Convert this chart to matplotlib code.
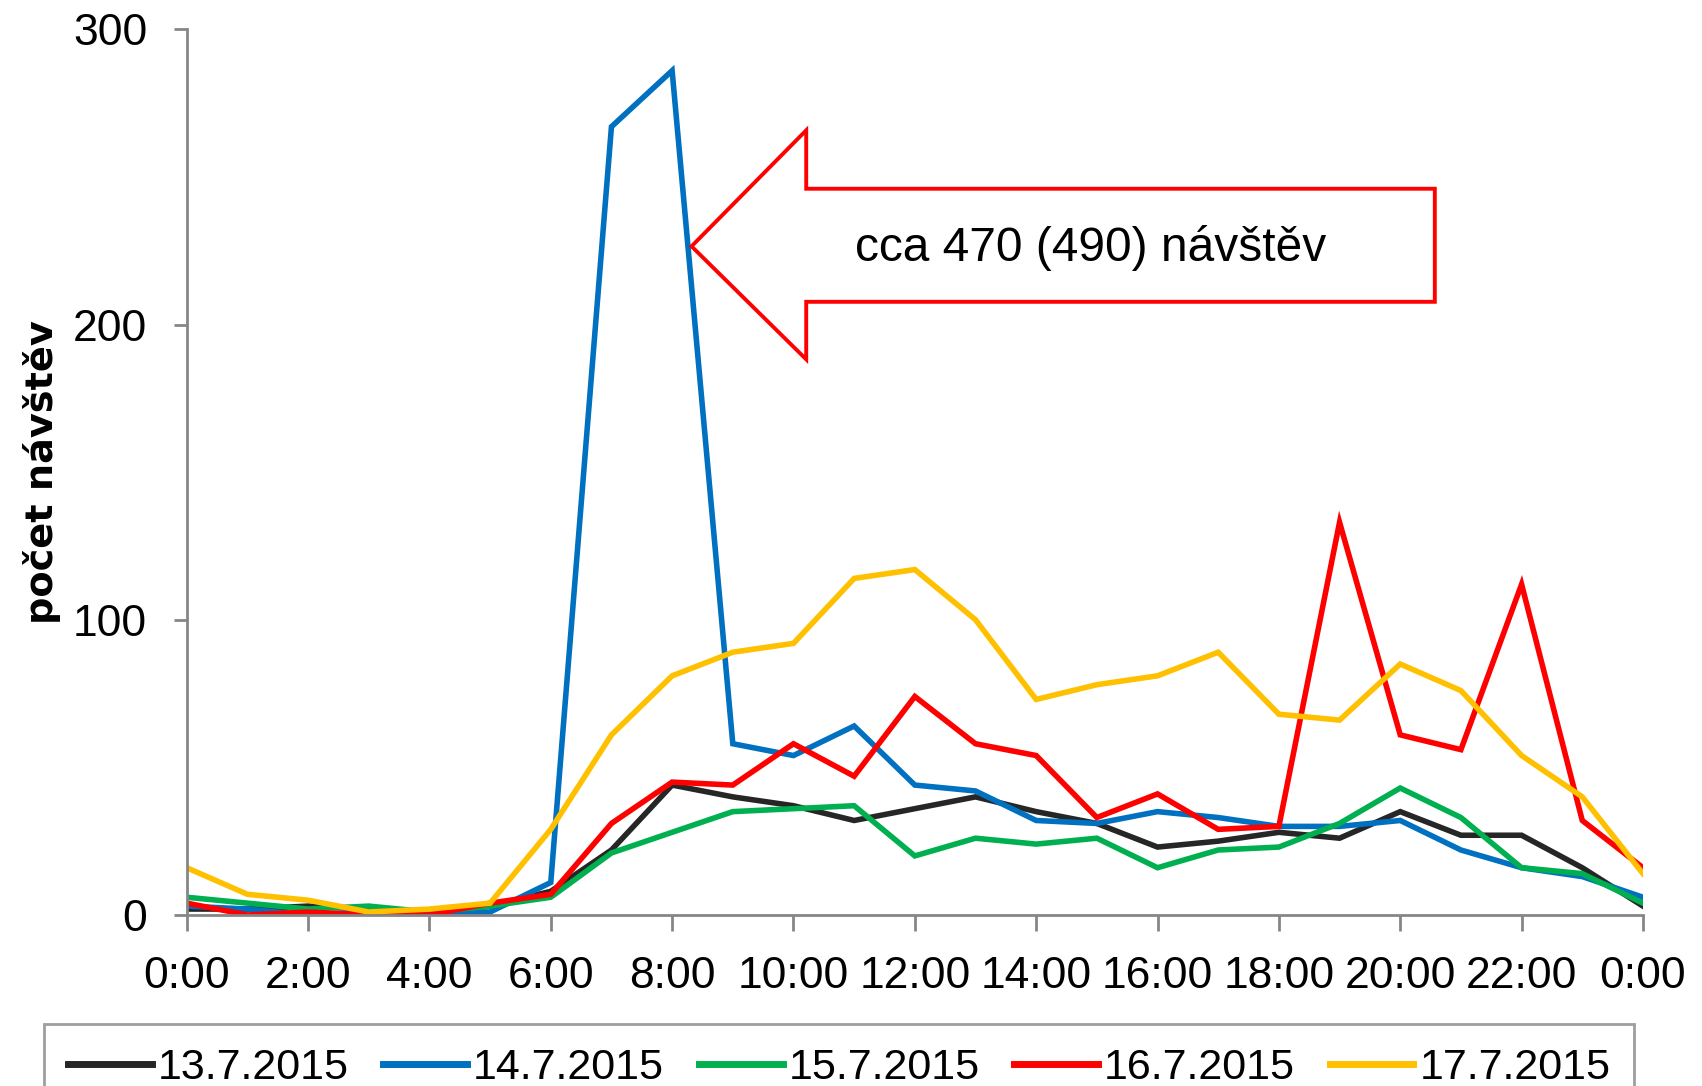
import matplotlib
matplotlib.use("Agg")
import matplotlib.pyplot as plt
from matplotlib.patches import Polygon

plt.rcParams["font.family"] = ["Liberation Sans", "DejaVu Sans"]

# hourly visit counts, 0:00 .. 24:00
hours = list(range(25))
tick_hours = list(range(0, 25, 2))
tick_labels = [f"{h % 24}:00" for h in tick_hours]

labels = ["13.7.2015", "14.7.2015", "15.7.2015", "16.7.2015", "17.7.2015"]
colors = ["#262626", "#0070C0", "#00B050", "#FF0000", "#FFC000"]

visits_13 = [2, 2, 3, 2, 1, 3, 8, 22, 44, 40, 37, 32, 36, 40, 35, 31, 23, 25, 28, 26, 35, 27, 27, 16, 3]
visits_14 = [3, 2, 0, 1, 1, 1, 11, 267, 286, 58, 54, 64, 44, 42, 32, 31, 35, 33, 30, 30, 32, 22, 16, 13, 6]
visits_15 = [6, 4, 2, 3, 1, 3, 6, 21, 28, 35, 36, 37, 20, 26, 24, 26, 16, 22, 23, 31, 43, 33, 16, 14, 4]
visits_16 = [4, 0, 1, 0, 0, 4, 7, 31, 45, 44, 58, 47, 74, 58, 54, 33, 41, 29, 30, 133, 61, 56, 112, 32, 16]
visits_17 = [16, 7, 5, 1, 2, 4, 29, 61, 81, 89, 92, 114, 117, 100, 73, 78, 81, 89, 68, 66, 85, 76, 54, 40, 14]
series = [visits_13, visits_14, visits_15, visits_16, visits_17]

# callout arrow outline (hours, visits)
arrow_x = [8.32, 10.21, 10.21, 20.57, 20.57, 10.21, 10.21]
arrow_y = [226.5, 265.8, 246.0, 246.0, 207.7, 207.7, 188.2]
note = "cca 470 (490) návštěv"

fig = plt.figure(figsize=(17.02, 10.86), dpi=100)
ax = fig.add_axes([0.1097, 0.1575, 0.8556, 0.8155])

for vals, lab, col in zip(series, labels, colors):
    ax.plot(hours, vals, color=col, linewidth=4.0, label=lab, solid_joinstyle="miter")

ax.add_patch(Polygon(list(zip(arrow_x, arrow_y)), closed=True, facecolor="white",
                     edgecolor="#FF0000", linewidth=2.8, zorder=5, joinstyle="miter"))
ax.text(14.9, 226, note, ha="center", va="center", fontsize=34.5, zorder=6)

ax.set_xlim(0, 24)
ax.set_ylim(0, 300)
ax.set_xticks(tick_hours)
ax.set_xticklabels(tick_labels)
ax.set_yticks([0, 100, 200, 300])

for side in ["top", "right"]:
    ax.spines[side].set_visible(False)
for side in ["left", "bottom"]:
    ax.spines[side].set_color("#868686")
    ax.spines[side].set_linewidth(2)

ax.tick_params(axis="x", length=11.5, width=2, color="#868686", pad=18, labelsize=32)
ax.tick_params(axis="y", length=9.5, width=2, color="#868686", pad=19, labelsize=32)

ax.set_ylabel("počet návštěv", fontsize=27.5, fontweight="bold", family="DejaVu Sans")
ax.yaxis.set_label_coords(-0.086, 0.5)

leg = fig.legend(loc="upper left", bbox_to_anchor=(44 / 1702, 1 - 1024 / 1086), ncol=5,
                 fontsize=31, frameon=True, fancybox=False, handlelength=1.95,
                 handletextpad=0.14, columnspacing=0.8, borderpad=0.55, borderaxespad=0)
leg.get_frame().set_edgecolor("#868686")
leg.get_frame().set_linewidth(2)
for line in leg.get_lines():
    line.set_linewidth(5)

fig.savefig("out.png", dpi=100)
